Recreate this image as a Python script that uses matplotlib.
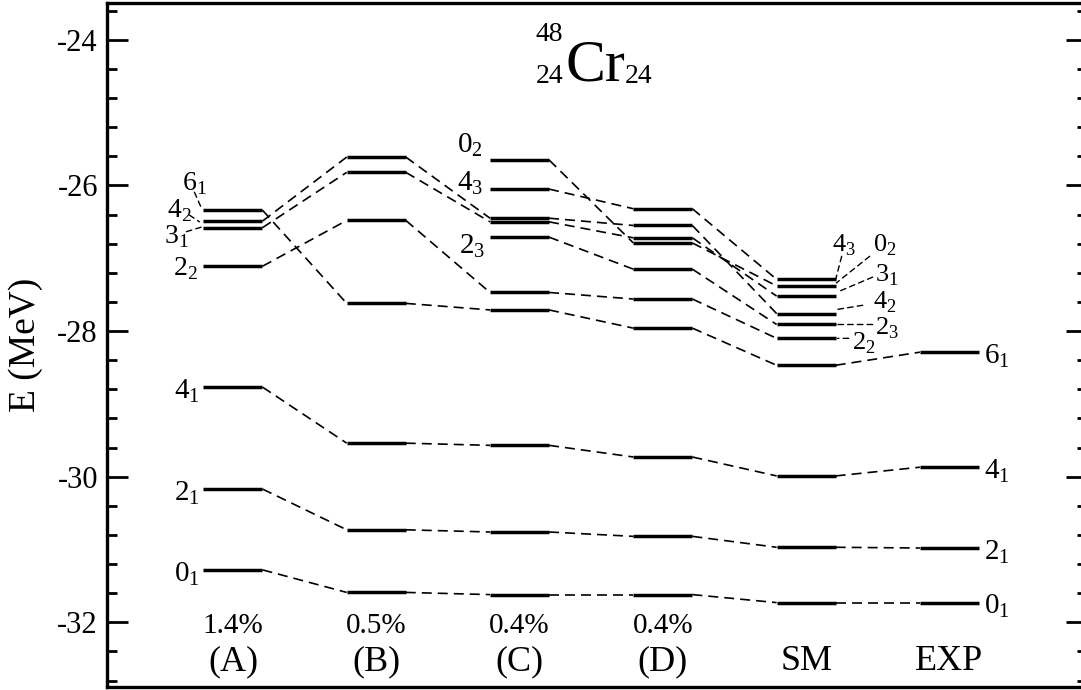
import numpy as np
import matplotlib.pyplot as plt
from matplotlib.ticker import MultipleLocator
from matplotlib.transforms import blended_transform_factory, offset_copy

plt.rcParams['font.family'] = 'Liberation Serif'
plt.rcParams['mathtext.fontset'] = 'custom'
plt.rcParams['mathtext.rm'] = 'Liberation Serif'
plt.rcParams['axes.unicode_minus'] = False

nan = np.nan

# level energies (MeV) per calculation, same order as `states`
states = ['0_1', '2_1', '4_1', '6_1', '2_2', '3_1', '4_2', '0_2', '2_3', '4_3']
E_A = [-31.28, -30.17, -28.77, -26.34, -27.11, -26.58, -26.49, nan, nan, nan]
E_B = [-31.59, -30.73, -29.54, -27.62, -26.48, -25.82, -25.61, nan, nan, nan]
E_C = [-31.62, -30.76, -29.57, -27.71, -27.47, -26.50, -26.45, -25.65, -26.71, -26.05]
E_D = [-31.62, -30.82, -29.73, -27.96, -27.56, -26.72, -26.55, -26.79, -27.15, -26.32]
E_SM = [-31.73, -30.97, -29.99, -28.47, -28.10, -27.52, -27.76, -27.38, -27.91, -27.29]
E_EXP = [-31.73, -30.98, -29.87, -28.29, nan, nan, nan, nan, nan, nan]

columns = ['(A)', '(B)', '(C)', '(D)', 'SM', 'EXP']
errors = ['1.4%', '0.5%', '0.4%', '0.4%', '', '']
energies = [E_A, E_B, E_C, E_D, E_SM, E_EXP]

hw = 0.206  # half width of a level bar

fig = plt.figure(figsize=(10.81, 6.90), dpi=100)
ax = fig.add_axes([107 / 1081, 3.3 / 690, 980 / 1081, 684 / 690])

for i, E in enumerate(energies):
    E = np.array(E)
    ok = ~np.isnan(E)
    ax.hlines(E[ok], i - hw, i + hw, color='black', lw=2.5)
    if i + 1 < len(energies):
        E2 = np.array(energies[i + 1])
        for a, b in zip(E, E2):
            if np.isnan(a) or np.isnan(b):
                continue
            ax.plot([i + hw, i + 1 - hw], [a, b], color='black', lw=1.2,
                    ls=(0, (6, 3.6)))


def sub_label(s):
    n, k = s.split('_')
    return r'$\mathrm{%s}_{\mathrm{%s}}$' % (n, k)


# label placement: (column, state, dx, dy, size, leader start, leader end) in pixels
# columns 0 and 2 are labelled on the left of the bar, the rest on the right
labels = [
    (0, '0_1', -4, -11, 21, None, None),
    (0, '2_1', -4, -11, 21, None, None),
    (0, '4_1', -4, -11, 21, None, None),
    (0, '2_2', -6, -9, 20, None, None),
    (0, '3_1', -15, -16, 20, (-17, -4), (-2, 0.6)),
    (0, '4_2', -12, 4, 20, (-14, 6), (-4, -0.7)),
    (0, '6_1', 3, 20, 20, (-9, 18), (-2, 2)),
    (2, '0_2', -7, 8, 21, None, None),
    (2, '4_3', -7, -1, 21, None, None),
    (2, '2_3', -5, -16, 21, None, None),
    (4, '4_3', -4, 28, 19, (6, 23), (0, 0)),
    (4, '0_2', 37, 34, 19, (34, 29.6), (0.7, 3)),
    (4, '3_1', 39, 15, 19, (37, 19), (2.3, 4.3)),
    (4, '4_2', 37, 5, 19, (27, 8.3), (0.7, 4)),
    (4, '2_3', 39, -10, 19, (37, 0), (0.7, 0)),
    (4, '2_2', 16, -11, 19, (13, 0), (2, 0)),
    (5, '0_1', 5, -11, 21, None, None),
    (5, '2_1', 5, -11, 21, None, None),
    (5, '4_1', 5, -11, 21, None, None),
    (5, '6_1', 5, -11, 21, None, None),
]

for col, st, dx, dy, size, l0, l1 in labels:
    E = energies[col][states.index(st)]
    left = col in (0, 2)
    x = col - hw if left else col + hw
    ax.annotate(sub_label(st), xy=(x, E), xytext=(dx, dy), textcoords='offset pixels',
                ha='right' if left else 'left', va='baseline', fontsize=size)
    if l0 is not None:
        ax.annotate('', xy=(x, E), xycoords=offset_copy(ax.transData, fig=fig, x=l1[0], y=l1[1], units='dots'),
                    xytext=(x, E), textcoords=offset_copy(ax.transData, fig=fig, x=l0[0], y=l0[1], units='dots'),
                    arrowprops=dict(arrowstyle='-', lw=1.0, ls=(0, (4, 3)), shrinkA=0, shrinkB=0,
                                    color='black'))

trans = blended_transform_factory(ax.transData, ax.transAxes)
for i, (name, err) in enumerate(zip(columns, errors)):
    ax.text(i, 0.0785, err, transform=trans, ha='center', va='baseline', fontsize=21)
    ax.text(i, 0.0244, name, transform=trans, ha='center', va='baseline', fontsize=26)

ax.set_xlim(-0.879, 5.96)
ax.set_ylim(-32.885, -23.49)
ax.set_xticks([])
ax.yaxis.set_major_locator(MultipleLocator(2))
ax.yaxis.set_minor_locator(MultipleLocator(0.4))
ax.tick_params(axis='y', which='both', direction='in', left=True, right=True,
               labelsize=22, pad=6.5)
ax.tick_params(axis='y', which='major', length=15, width=2)
ax.tick_params(axis='y', which='minor', length=7.2, width=2)
for sp in ax.spines.values():
    sp.set_linewidth(2.4)

fig.text(26 / 1081, 0.5, 'E (MeV)', rotation=90, ha='center', va='center', fontsize=27)

# nucleus title
fig.text(563 / 1081, (690 - 40.7) / 690, '48', ha='right', va='baseline', fontsize=20)
fig.text(563 / 1081, (690 - 82.7) / 690, '24', ha='right', va='baseline', fontsize=20)
fig.text(565 / 1081, (690 - 80.7) / 690, 'Cr', ha='left', va='baseline', fontsize=43)
fig.text(625 / 1081, (690 - 82.7) / 690, '24', ha='left', va='baseline', fontsize=20)

fig.savefig('out.png', dpi=100)
